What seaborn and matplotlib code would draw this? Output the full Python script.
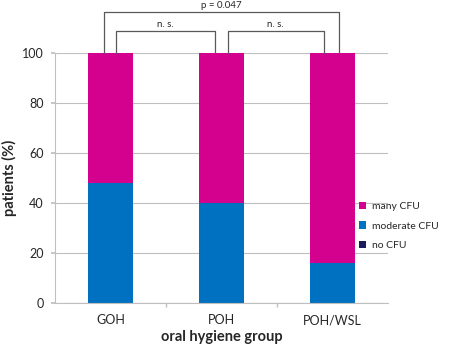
import numpy as np
import pandas as pd
import matplotlib.pyplot as plt
import seaborn as sns
from matplotlib.patches import Patch

# data
groups = ["GOH", "POH", "POH/WSL"]
no_cfu = [0, 0, 0]
moderate_cfu = [48, 40, 16]
many_cfu = [52, 60, 84]

series_names = ["many CFU", "moderate CFU", "no CFU"]
colors = {"many CFU": "#D4008E", "moderate CFU": "#0070C0", "no CFU": "#1A1A5E"}

sns.set_theme(style="white")
plt.rcParams["font.family"] = ["Lato", "DejaVu Sans"]

df = pd.DataFrame({"group": groups, "no": no_cfu,
                   "moderate": moderate_cfu, "many": many_cfu})
df["cum_no"] = df["no"]
df["cum_moderate"] = df["cum_no"] + df["moderate"]
df["cum_many"] = df["cum_moderate"] + df["many"]

fig = plt.figure(figsize=(4.72, 3.45), dpi=100)
ax = fig.add_axes([0.1165, 0.122, 0.706, 0.724])

# stacked bars: draw cumulative totals from top to bottom
for col, name in [("cum_many", "many CFU"), ("cum_moderate", "moderate CFU"), ("cum_no", "no CFU")]:
    sns.barplot(data=df, x="group", y=col, color=colors[name], width=0.4,
                saturation=1, ax=ax, linewidth=0)

ax.set_ylim(0, 100)
ax.set_xlim(-0.5, 2.5)
ax.set_yticks(np.arange(0, 101, 20))
ax.yaxis.grid(True, color="#BFBFBF", linewidth=0.8)
ax.set_axisbelow(True)
for s in ["top", "right"]:
    ax.spines[s].set_visible(False)
for s in ["left", "bottom"]:
    ax.spines[s].set_color("#BFBFBF")
    ax.spines[s].set_linewidth(0.8)
ax.tick_params(axis="y", length=3, color="#BFBFBF", labelsize=9, pad=5, left=True)
ax.tick_params(axis="x", length=0, labelsize=9, pad=8)
ax.set_xticks([0.5, 1.5], minor=True)
ax.tick_params(axis="x", which="minor", length=3, color="#BFBFBF", bottom=True)
ax.set_xlabel("oral hygiene group", fontsize=10.5, fontweight="bold", labelpad=3)
ax.set_ylabel("patients (%)", fontsize=10.5, fontweight="bold", labelpad=4)

# significance brackets
def bracket(x0, x1, y, text):
    ax.plot([x0, x0, x1, x1], [100, y, y, 100], color="#595959", lw=0.9, clip_on=False)
    ax.text((x0 + x1) / 2, y + 1.0, text, ha="center", va="bottom", fontsize=7, clip_on=False)

bracket(-0.063, 2.055, 116.4, "p = 0.047")
bracket(0.045, 0.945, 108.8, "n. s.")
bracket(1.055, 1.92, 108.8, "n. s.")

handles = [Patch(facecolor=colors[n], edgecolor="none") for n in series_names]
fig.legend(handles, series_names, loc="center left", bbox_to_anchor=(0.74, 0.345),
           frameon=False, fontsize=7.5, handlelength=0.7, handleheight=0.7,
           handletextpad=0.6, labelspacing=1.0)

fig.savefig("out.png", dpi=100)
